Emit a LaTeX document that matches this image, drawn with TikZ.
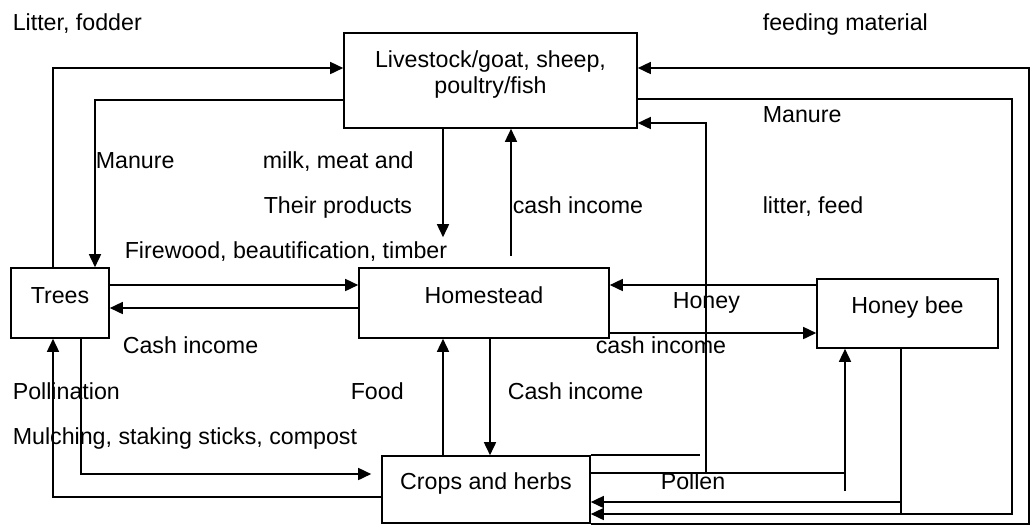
\documentclass[tikz,border=0pt]{standalone}
\usepackage{fontspec}
\setmainfont{Liberation Sans}
\usetikzlibrary{arrows.meta}
\tikzset{
  unit/.style={draw, text height=0pt, text depth=0pt, inner sep=0pt},
  lbl/.style={anchor=base west, inner sep=0pt},
}
\begin{document}
\begin{tikzpicture}[x=0.5pt, y=-0.5pt, line width=0.8pt, >={Triangle[length=6.5pt,width=6pt]}, font={\fontsize{11.6}{13}\selectfont}]
  \useasboundingbox (0,0) rectangle (1031,526);
  \node[unit, minimum width=146.5pt, minimum height=47.5pt, align=center, text height=12.5pt] (stock) at (490.5,80.5) {Livestock/goat, sheep,\\poultry/fish};
  \node[unit, minimum width=49pt, minimum height=35pt] (trees) at (60,303) {Trees};
  \node[unit, minimum width=125pt, minimum height=35pt] (home) at (484,303) {Homestead};
  \node[unit, minimum width=90.5pt, minimum height=34.5pt] (bee) at (907.5,313.5) {Honey bee};
  \node[unit, minimum width=104pt, minimum height=33.5pt] (crops) at (486,489.5) {Crops and herbs};
  \coordinate (pollenfoot) at (845,491);
  \draw[->] (trees.north -| 53,0) |- (stock.west |- 0,68);
  \draw[->] (stock.west |- 0,100) -| (95,0 |- trees.north);
  \draw[->, shorten >=15pt] (stock.south -| 443,0) -- (443,0 |- home.north);
  \draw[->, shorten <=5.5pt] (511,0 |- home.north) -- (stock.south -| 511,0);
  \draw[->] (trees.east |- 0,285) -- (home.west |- 0,285);
  \draw[->] (home.west |- 0,308) -- (trees.east |- 0,308);
  \draw[->] (bee.west |- 0,285) -- (home.east |- 0,285);
  \draw[->] (home.east |- 0,333) -- (bee.west |- 0,333);
  \draw[->] (crops.north -| 443,0) -- (home.south -| 443,0);
  \draw[->] (home.south -| 490,0) -- (crops.north -| 490,0);
  \draw[->] (crops.west |- 0,497) -| (53,0 |- trees.south);
  \draw[->, shorten >=5pt] (trees.south -| 81,0) |- (crops.west |- 0,474);
  \draw[->] (crops.east |- 0,473) -| (706,123) -- (stock.east |- 0,123);
  \draw (crops.east |- 0,473) -- (845,473);
  \draw[->] (pollenfoot) -- (bee.south -| pollenfoot);
  \draw[->] (bee.south -| 901,0) |- (crops.east |- 0,502);
  \draw (901,502) -- (901,514);
  \draw[->] (stock.east |- 0,99) -| (1012,514) -- (crops.east |- 0,514);
  \draw[->] (crops.south east) -| (1029,68) -- (stock.east |- 0,68);
  \draw (crops.north east) -- (700,0 |- crops.north);
  \node[lbl] (litter) at (12,30) {Litter, fodder};
  \node[lbl] (feeding) at (762,30) {feeding material};
  \node[lbl] (manureL) at (95,168) {Manure};
  \node[lbl] (milk) at (262,168) {milk, meat and};
  \node[lbl] (products) at (263,213) {Their products};
  \node[lbl] (cashup) at (512,213) {cash income};
  \node[lbl] (manureR) at (762,122) {Manure};
  \node[lbl] (litterfeed) at (762,213) {litter, feed};
  \node[lbl] (firewood) at (124,258) {Firewood, beautification, timber};
  \node[lbl] (honey) at (672,308) {Honey};
  \node[lbl] (cashtrees) at (122,353) {Cash income};
  \node[lbl] (cashbee) at (595,353) {cash income};
  \node[lbl] (pollination) at (12,399) {Pollination};
  \node[lbl] (food) at (350,399) {Food};
  \node[lbl] (cashcrops) at (507,399) {Cash income};
  \node[lbl] (mulching) at (12,444) {Mulching, staking sticks, compost};
  \node[lbl] (pollen) at (660,489) {Pollen};
\end{tikzpicture}
\end{document}
